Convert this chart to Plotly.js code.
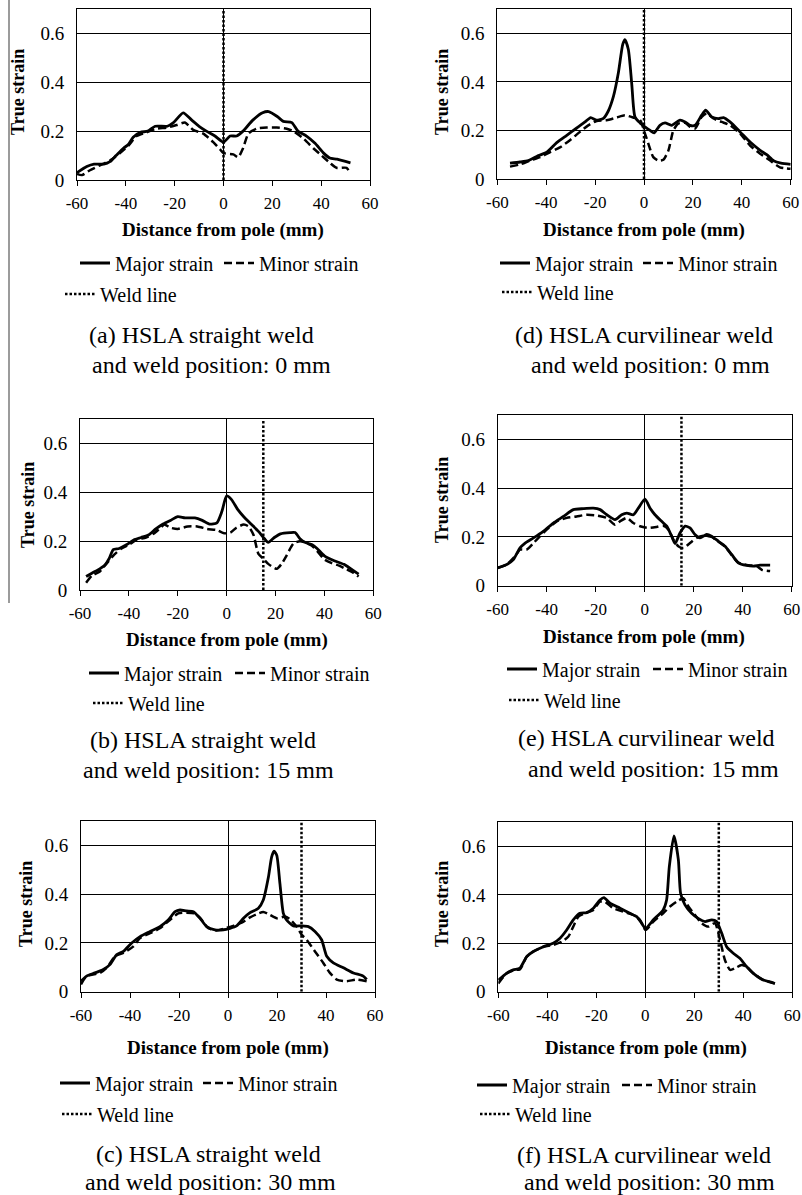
<!DOCTYPE html>
<html>
<head>
<meta charset="utf-8">
<script src="https://cdn.plot.ly/plotly-3.0.1.min.js"></script>
<style>
  html, body { margin: 0; padding: 0; background: #fff; }
  #chart { width: 802px; height: 1195px; }
</style>
</head>
<body>
<div id="chart"></div>
<script>
// ---------------- data ----------------
const xTicks = [-60, -40, -20, 0, 20, 40, 60];
const xTickText = ['-60', '-40', '-20', '0', '20', '40', '60'];
const yTicks = [0, 0.2, 0.4, 0.6];
const yTickText = ['0', '0.2', '0.4', '0.6'];
const seriesNames = ['Major strain', 'Minor strain', 'Weld line'];
const xAxisTitle = 'Distance from pole (mm)';
const yAxisTitle = 'True strain';
const weldSpan = [0, 0.7];

// (a) HSLA straight weld, weld position 0 mm
const aMajorX = [-60,-56,-53,-49,-46.5,-44,-41,-39,-37,-34,-31,-28,-23,-20.5,-16.5,-13,-10,-7,-3.5,0,2.7,5.4,8,12,16,18.5,22,24.5,28,30.5,34,37.5,41,43.5,46.5,52];
const aMajorY = [0.03,0.055,0.065,0.065,0.075,0.1,0.13,0.145,0.175,0.195,0.2,0.22,0.22,0.235,0.275,0.245,0.22,0.2,0.18,0.155,0.18,0.18,0.2,0.245,0.275,0.28,0.26,0.24,0.235,0.2,0.18,0.15,0.11,0.09,0.085,0.07];
const aMinorX = [-60,-58,-54.7,-50.6,-46.5,-42.4,-39,-35.6,-31.5,-27.4,-23,-19.2,-15.8,-12.4,-8.3,-4.2,-1.4,0,4,6,8,10.2,13.6,17.7,21.8,25.9,28.6,32.7,36.8,40.2,43.6,46.3,50.4,51.5];
const aMinorY = [0.025,0.02,0.04,0.06,0.08,0.11,0.14,0.18,0.195,0.21,0.215,0.225,0.235,0.205,0.19,0.155,0.125,0.11,0.105,0.093,0.13,0.19,0.21,0.215,0.215,0.21,0.2,0.17,0.13,0.1,0.07,0.05,0.05,0.035];

// (b) HSLA straight weld, weld position 15 mm
const bMajorX = [-57.5,-55,-53,-50,-48,-46.4,-44,-41,-38,-35,-32,-29,-26,-23,-20,-17,-13,-10,-7,-4,-2,0,2,4.5,7,10,13,15.5,17,19.5,22,26,28,30,32,35,37,40,44,48,51,54];
const bMajorY = [0.055,0.07,0.08,0.1,0.13,0.165,0.17,0.185,0.205,0.215,0.225,0.25,0.27,0.285,0.3,0.295,0.295,0.285,0.27,0.275,0.32,0.385,0.37,0.33,0.3,0.27,0.24,0.21,0.195,0.215,0.23,0.235,0.235,0.21,0.195,0.185,0.17,0.14,0.12,0.105,0.085,0.065];
const bMinorX = [-57.5,-55,-52,-49,-46,-43,-40,-37,-33,-30,-27,-25.5,-23,-20,-16,-12,-8,-4,-1,1.5,4,7,9,11,13,15,17,20.5,22.5,24.5,27.3,30,32,35,37,40,43,46,49,52,54];
const bMinorY = [0.03,0.06,0.075,0.11,0.145,0.17,0.185,0.205,0.215,0.23,0.255,0.268,0.255,0.25,0.26,0.26,0.25,0.245,0.232,0.235,0.255,0.268,0.26,0.225,0.148,0.128,0.107,0.087,0.107,0.141,0.19,0.2,0.195,0.18,0.16,0.125,0.11,0.1,0.085,0.07,0.055];

// (c) HSLA straight weld, weld position 30 mm
const cMajorX = [-60,-57.7,-54.3,-50.9,-48.2,-45.4,-42.7,-39.3,-35.9,-31.8,-27.8,-24.4,-21.6,-19.6,-16.9,-14.1,-11.4,-8.7,-5.3,-1.9,0.8,3.5,6.3,9,12.4,14.4,16.5,17.8,18.8,19.9,21.2,22.6,23.9,26.7,30.1,32.8,35.5,38.2,40.3,43,47.1,51.2,55.2,56.6];
const cMajorY = [0.043,0.064,0.077,0.091,0.111,0.152,0.165,0.2,0.226,0.247,0.267,0.294,0.328,0.335,0.331,0.328,0.301,0.267,0.254,0.254,0.26,0.27,0.301,0.324,0.342,0.376,0.47,0.552,0.576,0.559,0.443,0.321,0.294,0.27,0.27,0.267,0.247,0.213,0.145,0.118,0.098,0.077,0.064,0.05];
const cMinorX = [-60,-57.7,-52.2,-49.5,-46.1,-42.7,-38.6,-35.9,-31.8,-27.8,-23.7,-20.3,-16.9,-13.5,-10.7,-8,-4.6,-1.2,2.2,5.6,9,12.4,14.4,17.1,19.9,23.3,25.3,28,30.1,32.1,35.5,38.9,41.6,44.4,48.4,52.5,56.6];
const cMinorY = [0.03,0.064,0.077,0.098,0.145,0.159,0.186,0.22,0.24,0.26,0.294,0.321,0.324,0.321,0.294,0.26,0.251,0.26,0.27,0.283,0.305,0.321,0.327,0.315,0.301,0.308,0.297,0.267,0.233,0.213,0.165,0.118,0.077,0.05,0.043,0.05,0.043];

// (d) HSLA curvilinear weld, weld position 0 mm
const dMajorX = [-54.8,-50.7,-47.3,-43.9,-39.8,-35.7,-31.6,-27.5,-24.1,-21.8,-19.4,-16.6,-14.6,-12.5,-10.5,-8.7,-7.8,-6.4,-5,-3.7,-1.6,0.4,2.5,4.1,6.5,8.6,11.3,14.7,16.8,18.8,20.9,23.6,25.2,27.7,30.4,32.5,35.2,39.3,43.4,47.5,50.2,53,56,60];
const dMajorY = [0.065,0.07,0.076,0.093,0.11,0.15,0.18,0.21,0.235,0.253,0.242,0.25,0.28,0.34,0.436,0.554,0.574,0.533,0.39,0.256,0.231,0.215,0.2,0.19,0.221,0.231,0.221,0.242,0.235,0.221,0.221,0.263,0.284,0.256,0.249,0.253,0.235,0.194,0.152,0.118,0.1,0.075,0.065,0.06];
const dMinorX = [-54.8,-50.7,-46.6,-42.5,-38.5,-34.4,-30.3,-26.2,-22.8,-19.4,-15.3,-11.2,-7.8,-4.4,-1.6,0.4,1.8,3.8,5.9,7.9,10,12,14,16.8,18.8,20.9,23.6,25.6,28.4,31.8,35.2,39.3,43.4,47.5,51.6,55.6,60];
const dMinorY = [0.051,0.06,0.076,0.09,0.11,0.13,0.16,0.194,0.221,0.239,0.242,0.253,0.262,0.253,0.242,0.187,0.145,0.09,0.076,0.079,0.118,0.2,0.228,0.231,0.215,0.208,0.256,0.27,0.249,0.235,0.221,0.187,0.138,0.104,0.076,0.048,0.042];

// (e) HSLA curvilinear weld, weld position 15 mm
const eMajorX = [-60,-56.3,-53.6,-50.9,-48.8,-45.4,-41.4,-37.3,-33.2,-29.1,-25,-21,-18.2,-15.5,-12.1,-9.4,-7.3,-4.6,-2.6,0.1,2.2,4.2,6.9,9,11,12.4,14.4,16.5,18.5,20.5,22.6,25.3,27.3,30.1,32.8,35.5,38.2,41.6,44.4,47.1,51.2];
const eMajorY = [0.073,0.087,0.107,0.155,0.175,0.196,0.223,0.257,0.284,0.312,0.316,0.318,0.312,0.291,0.271,0.291,0.298,0.291,0.318,0.355,0.318,0.291,0.264,0.244,0.203,0.173,0.216,0.244,0.237,0.21,0.196,0.21,0.203,0.182,0.162,0.128,0.094,0.083,0.08,0.084,0.084];
const eMinorX = [-60,-56.3,-52.9,-50.9,-48.2,-45.4,-42.7,-40,-35.9,-31.8,-27.8,-23.7,-19.6,-15.5,-12.1,-10.1,-7.3,-4.6,-1.9,1.5,4.9,7.6,9.7,11.7,13.7,15.8,18.5,21.2,23.9,27.3,30.1,32.8,35.5,38.2,41.6,45.7,47.8,51.2];
const eMinorY = [0.073,0.087,0.121,0.148,0.148,0.175,0.203,0.23,0.264,0.278,0.284,0.291,0.288,0.278,0.25,0.264,0.278,0.257,0.244,0.237,0.241,0.246,0.23,0.189,0.162,0.155,0.175,0.196,0.205,0.2,0.18,0.16,0.125,0.095,0.085,0.08,0.065,0.06];

// (f) HSLA curvilinear weld, weld position 30 mm
const fMajorX = [-60,-56.6,-53.9,-51.2,-48.4,-45.7,-41.6,-37.6,-34.8,-32.1,-29.4,-26.7,-23.9,-21.2,-18.5,-16.9,-14.4,-10.3,-6.3,-3.5,-1.5,0.1,3.3,7.3,8.7,9.8,11.7,13.5,14.4,16.2,18.9,21.6,24.4,27.1,29.1,31.2,33.2,35.9,38.6,41.4,44.1,48.2,50.9,52.9];
const fMajorY = [0.048,0.076,0.09,0.097,0.145,0.166,0.186,0.2,0.221,0.255,0.297,0.324,0.327,0.345,0.379,0.389,0.366,0.345,0.324,0.31,0.283,0.262,0.297,0.338,0.379,0.517,0.644,0.545,0.407,0.359,0.324,0.303,0.29,0.297,0.29,0.241,0.186,0.159,0.138,0.103,0.076,0.048,0.041,0.034];
const fMinorX = [-60,-56.6,-53.2,-51.2,-48.4,-45.7,-41.6,-37.6,-34.1,-31.4,-29.4,-27.3,-24.6,-21.2,-18.5,-16.5,-13.1,-9,-4.9,-2.2,0.1,3.3,7.3,10.1,12.8,15.5,17.6,20.3,23,25.7,28.4,30.5,32.5,34.6,36.6,39.3,41.4,44.1,48.2,52.9];
const fMinorY = [0.034,0.076,0.09,0.092,0.145,0.166,0.186,0.193,0.207,0.228,0.269,0.31,0.324,0.338,0.372,0.372,0.345,0.331,0.317,0.297,0.255,0.29,0.324,0.352,0.372,0.386,0.352,0.317,0.283,0.269,0.283,0.214,0.131,0.09,0.097,0.11,0.103,0.076,0.048,0.034];

// weld line positions (mm) and sub-figure captions, in panel order a..f
const weldPositionMm = [0, 15, 30, 0, 15, 30];
const captionLine1 = ['(a) HSLA straight weld', '(b) HSLA straight weld', '(c) HSLA straight weld',
                      '(d) HSLA curvilinear weld', '(e) HSLA curvilinear weld', '(f) HSLA curvilinear weld'];
const captionLine2 = ['and weld position: 0 mm', 'and weld position: 15 mm', 'and weld position: 30 mm',
                      'and weld position: 0 mm', 'and weld position: 15 mm', 'and weld position: 30 mm'];

const majorX = [aMajorX, bMajorX, cMajorX, dMajorX, eMajorX, fMajorX];
const majorY = [aMajorY, bMajorY, cMajorY, dMajorY, eMajorY, fMajorY];
const minorX = [aMinorX, bMinorX, cMinorX, dMinorX, eMinorX, fMinorX];
const minorY = [aMinorY, bMinorY, cMinorY, dMinorY, eMinorY, fMinorY];

// ---------------- page geometry (pixels) ----------------
const W = 802, H = 1195;
const px = v => v / W;
const py = v => 1 - v / H;

// plot: [left, right, top, bottom]; text anchors as [x, y] centres
const frames = [
  { plot: [77, 370, 9, 180],        yT: [18, 92],   xT: [223, 230],  leg: [115, 259, 100, 263, 294],   c1: [201, 335],   c2: [211.5, 365] },
  { plot: [80, 373.3, 419, 590],    yT: [28, 505],  xT: [227, 640],  leg: [124, 270, 128, 673, 703],   c1: [202.5, 740], c2: [208.5, 770] },
  { plot: [81, 375, 821, 991.7],    yT: [26, 904],  xT: [228, 1048], leg: [95, 238, 97, 1083, 1114],   c1: [209, 1154],  c2: [210.5, 1182] },
  { plot: [497.3, 790.7, 9, 179],   yT: [442, 92],  xT: [644, 230],  leg: [535, 678, 537, 263, 292],   c1: [644, 335],   c2: [650.5, 365] },
  { plot: [497.7, 791.7, 415, 585.7], yT: [442, 500], xT: [644, 637], leg: [542, 688, 544, 669, 700], c1: [646, 738],   c2: [653.5, 769] },
  { plot: [498.3, 792.3, 822.3, 991.7], yT: [442, 904], xT: [646, 1048], leg: [512, 657, 515, 1085, 1114], c1: [643.5, 1155], c2: [649, 1182] }
];

const SERIF = "'Liberation Serif', 'Times New Roman', serif";
const INK = '#000000';

const traces = [];
const layout = {
  width: W, height: H,
  margin: { l: 0, r: 0, t: 0, b: 0 },
  paper_bgcolor: '#ffffff',
  plot_bgcolor: '#ffffff',
  showlegend: true,
  annotations: [],
  shapes: [
    // thin page rule on the left of the first column
    { type: 'line', xref: 'paper', yref: 'paper', x0: px(9), x1: px(9), y0: py(603), y1: py(0),
      line: { color: '#7a7a7a', width: 1.5 } }
  ]
};

const legendId = k => (k === 1 ? 'legend' : 'legend' + k);

frames.forEach((f, i) => {
  const n = i + 1;
  const xa = n === 1 ? 'xaxis' : 'xaxis' + n;
  const ya = n === 1 ? 'yaxis' : 'yaxis' + n;
  const xr = n === 1 ? 'x' : 'x' + n;
  const yr = n === 1 ? 'y' : 'y' + n;

  layout[xa] = {
    domain: [px(f.plot[0]), px(f.plot[1])],
    anchor: yr,
    range: [-60, 60],
    tickmode: 'array', tickvals: xTicks, ticktext: xTickText,
    ticks: 'outside', ticklen: 5, tickwidth: 1, tickcolor: INK,
    ticklabelstandoff: 3,
    showgrid: false,
    zeroline: true, zerolinecolor: INK, zerolinewidth: 1,
    showline: true, mirror: true, linecolor: INK, linewidth: 1,
    tickfont: { family: SERIF, size: 17, color: INK },
    fixedrange: true
  };
  layout[ya] = {
    domain: [py(f.plot[3]), py(f.plot[2])],
    anchor: xr,
    range: [0, 0.7],
    tickmode: 'array', tickvals: yTicks, ticktext: yTickText,
    ticks: '',
    ticklabelstandoff: 8,
    showgrid: true, gridcolor: INK, gridwidth: 1,
    zeroline: false,
    showline: true, mirror: true, linecolor: INK, linewidth: 1,
    tickfont: { family: SERIF, size: 19, color: INK },
    fixedrange: true
  };

  const lg = [legendId(3 * i + 1), legendId(3 * i + 2), legendId(3 * i + 3)];
  const legPos = [[f.leg[0], f.leg[3]], [f.leg[1], f.leg[3]], [f.leg[2], f.leg[4]]];
  lg.forEach((id, j) => {
    layout[id] = {
      x: px(legPos[j][0] - 40), y: py(legPos[j][1]),
      xref: 'paper', yref: 'paper',
      xanchor: 'left', yanchor: 'middle',
      orientation: 'v',
      bgcolor: 'rgba(0,0,0,0)', borderwidth: 0,
      font: { family: SERIF, size: 20, color: INK }
    };
  });

  traces.push({
    type: 'scatter', mode: 'lines', name: seriesNames[0],
    x: majorX[i], y: majorY[i], xaxis: xr, yaxis: yr, legend: lg[0],
    line: { color: INK, width: 2.8, shape: 'spline', smoothing: 0.6 },
    hoverinfo: 'skip'
  });
  traces.push({
    type: 'scatter', mode: 'lines', name: seriesNames[1],
    x: minorX[i], y: minorY[i], xaxis: xr, yaxis: yr, legend: lg[1],
    line: { color: INK, width: 2.5, dash: '8px,4px', shape: 'spline', smoothing: 0.6 },
    hoverinfo: 'skip'
  });
  traces.push({
    type: 'scatter', mode: 'lines', name: seriesNames[2],
    x: [weldPositionMm[i], weldPositionMm[i]], y: weldSpan, xaxis: xr, yaxis: yr, legend: lg[2],
    line: { color: INK, width: 2.5, dash: '2.5px,2px' },
    hoverinfo: 'skip'
  });

  // axis titles and captions
  layout.annotations.push(
    { xref: 'paper', yref: 'paper', x: px(f.yT[0]), y: py(f.yT[1]), text: '<b>' + yAxisTitle + '</b>', showarrow: false,
      textangle: -90, xanchor: 'center', yanchor: 'middle',
      font: { family: SERIF, size: 18, color: INK } },
    { xref: 'paper', yref: 'paper', x: px(f.xT[0]), y: py(f.xT[1]), text: '<b>' + xAxisTitle + '</b>', showarrow: false,
      xanchor: 'center', yanchor: 'middle',
      font: { family: SERIF, size: 19, color: INK } },
    { xref: 'paper', yref: 'paper', x: px(f.c1[0]), y: py(f.c1[1]), text: captionLine1[i], showarrow: false,
      xanchor: 'center', yanchor: 'middle',
      font: { family: SERIF, size: 24, color: INK } },
    { xref: 'paper', yref: 'paper', x: px(f.c2[0]), y: py(f.c2[1]), text: captionLine2[i], showarrow: false,
      xanchor: 'center', yanchor: 'middle',
      font: { family: SERIF, size: 24, color: INK } }
  );
});

Plotly.newPlot('chart', traces, layout, { displayModeBar: false, staticPlot: true });
</script>
</body>
</html>
